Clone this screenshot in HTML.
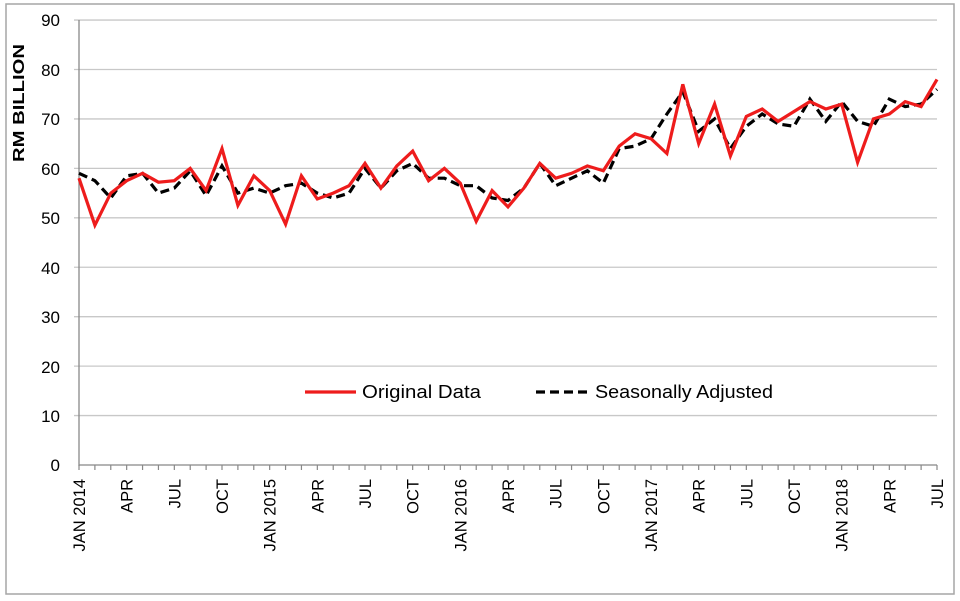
<!DOCTYPE html>
<html><head><meta charset="utf-8"><style>
html,body{margin:0;padding:0;background:#fff;}
svg{display:block;font-family:"Liberation Sans",sans-serif;}
</style></head><body>
<svg id="s" width="960" height="601" viewBox="0 0 960 601">
<rect x="6" y="4" width="948" height="590" fill="#fff" stroke="#a6a6a6" stroke-width="1.5"/>
<g id="grid" stroke="#c8c8c8" stroke-width="1.3"></g>
<line x1="79" y1="20" x2="79" y2="466" stroke="#888" stroke-width="1.3"/>
<line x1="79" y1="465" x2="937" y2="465" stroke="#888" stroke-width="1.3"/>
<g id="ticks" stroke="#888" stroke-width="1.2"></g>
<g font-size="17" fill="#000" text-anchor="end">
<text x="60" y="26">90</text><text x="60" y="76">80</text><text x="60" y="125">70</text>
<text x="60" y="175">60</text><text x="60" y="224">50</text><text x="60" y="274">40</text>
<text x="60" y="323">30</text><text x="60" y="373">20</text><text x="60" y="422">10</text>
<text x="60" y="471">0</text>
</g>
<text transform="translate(24,103) rotate(-90)" font-size="16" font-weight="bold" text-anchor="middle" textLength="118" lengthAdjust="spacingAndGlyphs">RM BILLION</text>
<g id="xl" font-size="16.5" text-anchor="end"></g>
<polyline id="sa" fill="none" stroke="#000" stroke-width="3.2" stroke-dasharray="9,5"/>
<polyline id="orig" fill="none" stroke="#ee1c1c" stroke-width="3.2" stroke-linejoin="miter"/>
<line x1="305" y1="392" x2="356" y2="392" stroke="#ee1c1c" stroke-width="3.2"/>
<text x="362" y="398" font-size="18" textLength="119" lengthAdjust="spacingAndGlyphs">Original Data</text>
<line x1="536" y1="392" x2="587" y2="392" stroke="#000" stroke-width="3.2" stroke-dasharray="9,5"/>
<text x="595" y="398" font-size="18" textLength="178" lengthAdjust="spacingAndGlyphs">Seasonally Adjusted</text>
</svg>
<script>
var X0=79,DX=(937-79)/54;function Y(v){return 465-v*4.944;}
var g=document.getElementById('grid'),h='';
for(var i=1;i<=9;i++){var y=Y(i*10);h+='<line x1="74" y1="'+y+'" x2="937" y2="'+y+'"/>';}
g.innerHTML=h;
var t='';for(var i=0;i<=54;i++){var x=X0+i*DX;t+='<line x1="'+x+'" y1="465" x2="'+x+'" y2="470"/>';}
document.getElementById('ticks').innerHTML=t;
var L=['JAN 2014','APR','JUL','OCT','JAN 2015','APR','JUL','OCT','JAN 2016','APR','JUL','OCT','JAN 2017','APR','JUL','OCT','JAN 2018','APR','JUL'];
var s='';for(var i=0;i<L.length;i++){var x=X0+i*3*DX+6;s+='<text transform="translate('+x+',479) rotate(-90)">'+L[i]+'</text>';}
document.getElementById('xl').innerHTML=s;
var o=[58,48.5,55,57.5,59,57.2,57.5,60,55.5,64,52.5,58.5,55.5,48.7,58.5,53.8,55,56.5,61,56,60.5,63.5,57.5,60,57,49.3,55.5,52.2,56,61,58,59,60.5,59.5,64.5,67,66,63,77,65,73,62.5,70.5,72,69.5,71.5,73.5,72,73,61.2,70,71,73.5,72.5,78];
var a=[59,57.5,54,58.5,59,55,56,59.5,54.5,60.5,55,56,55,56.5,57,55,54,55,60,56,59.5,61,58,58,56.5,56.5,54,53.5,56,61,56.5,58,59.5,57,64,64.5,66,71,75.5,67.5,70,64,68.5,71,69,68.5,74,69.5,73.5,69.5,68.5,74,72.5,73,76];
function P(d){return d.map(function(v,i){return (X0+i*DX).toFixed(1)+','+Y(v).toFixed(1);}).join(' ');}
document.getElementById('orig').setAttribute('points',P(o));
document.getElementById('sa').setAttribute('points',P(a));
</script>
</body></html>
